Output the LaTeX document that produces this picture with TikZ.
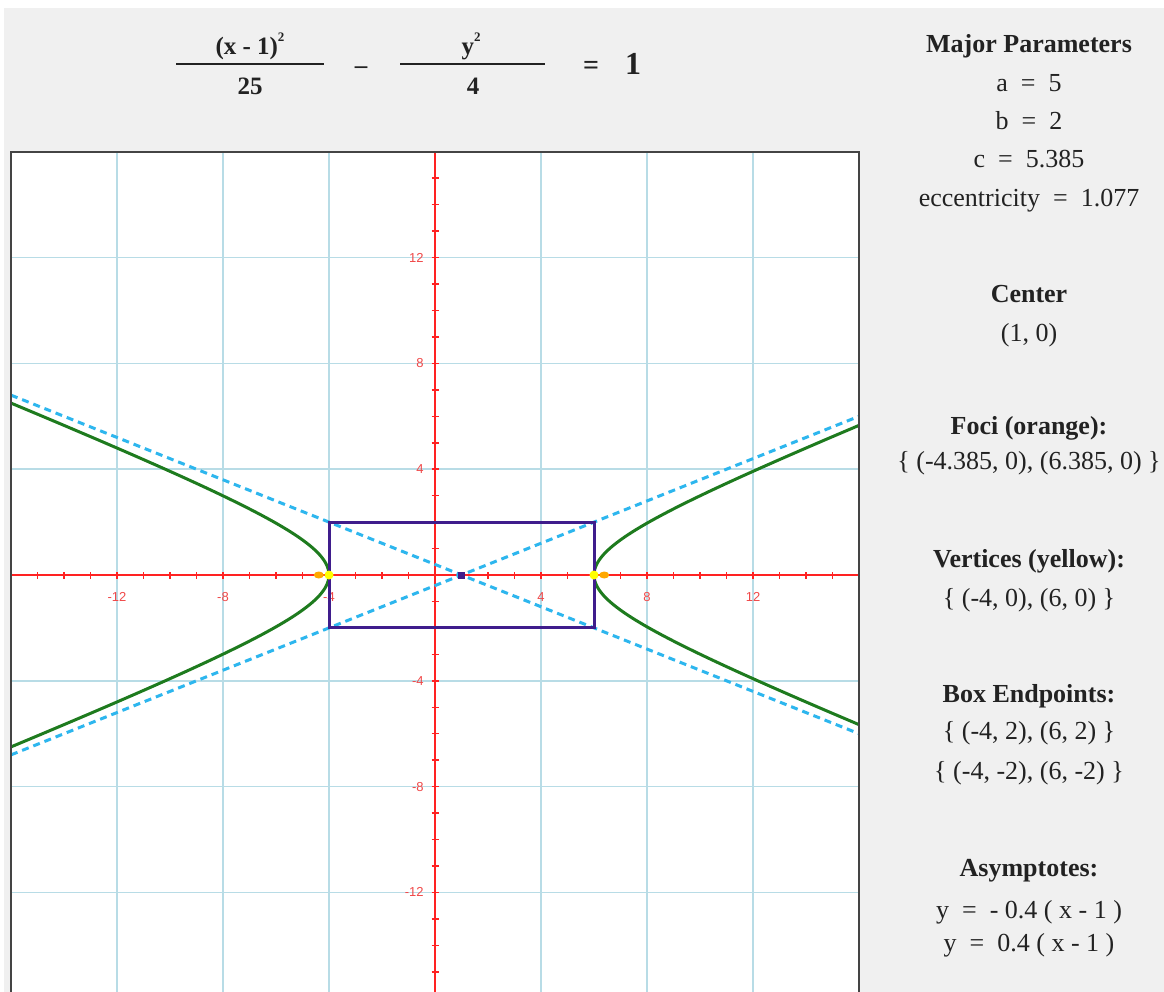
\documentclass[tikz,border=0pt]{standalone}
\usepackage{fontspec}
\setmainfont{Liberation Serif}
\newfontfamily\axisfont{Liberation Sans}
\definecolor{bggray}{HTML}{F0F0F0}
\definecolor{txt}{HTML}{222222}
\definecolor{gridc}{HTML}{B8DCE6}
\definecolor{axisc}{HTML}{FF2222}
\definecolor{lblc}{HTML}{F04848}
\definecolor{hypc}{HTML}{1E7B1E}
\definecolor{asymc}{HTML}{2DB6EE}
\definecolor{boxc}{HTML}{3F1D8C}
\definecolor{vtxc}{HTML}{FFFF00}
\definecolor{focc}{HTML}{FFA800}
\definecolor{borderc}{HTML}{444444}
\newcommand{\gap}{\hspace{0.5em}}
\newcommand{\sqsup}{\raisebox{0.5em}{\fontsize{13}{13}\selectfont 2}}
\tikzset{
  hd/.style={font=\fontsize{26}{30}\selectfont\bfseries, text=txt, inner sep=0pt, text height=0.7em, text depth=0.2em},
  bd/.style={font=\fontsize{26}{30}\selectfont, text=txt, inner sep=0pt, text height=0.7em, text depth=0.2em},
  eqt/.style={font=\fontsize{25}{30}\selectfont\bfseries, text=txt, inner sep=0pt, text height=0.7em, text depth=0.2em},
  fracbar/.style={draw=txt, line width=2pt},
  gridline/.style={draw=gridc, line width=1.5pt},
  axisline/.style={draw=axisc, line width=2pt},
  tickmark/.style={draw=axisc, line width=1.5pt},
  axlbl/.style={font=\axisfont\fontsize{13}{15}\selectfont, text=lblc, inner sep=0pt},
  hypline/.style={draw=hypc, line width=3pt},
  asymline/.style={draw=asymc, line width=3pt, dash pattern=on 7pt off 5pt},
  boxline/.style={draw=boxc, line width=3pt},
  vtx/.style={circle, fill=vtxc, minimum size=9pt, inner sep=0pt},
  foc/.style={ellipse, fill=focc, minimum width=10pt, minimum height=7pt, inner sep=0pt},
  ctr/.style={rectangle, fill=boxc, minimum size=7pt, inner sep=0pt},
}
\usetikzlibrary{shapes.geometric}
\begin{document}
\begin{tikzpicture}[x=1pt,y=-1pt]
\useasboundingbox (0,0) rectangle (1164,992);
\fill[white] (0,0) rectangle (1164,992);
\fill[bggray] (4,8) rectangle (1164,992);

% equation
\node[eqt] (num1) at (250,52) {(x - 1)\sqsup};
\node[eqt] (den1) at (250,92) {25};
\draw[fracbar] (176,64) -- (324,64);
\node[eqt] (minus) at (361,71) {–};
\node[eqt] (num2) at (471,52) {y\sqsup};
\node[eqt] (den2) at (473,92) {4};
\draw[fracbar] (400,64) -- (545,64);
\node[eqt, font=\fontsize{28}{32}\selectfont\bfseries] (eqsign) at (591,72) {=};
\node[eqt, font=\fontsize{32}{36}\selectfont\bfseries] (one) at (633,72) {1};

% right panel
\node[hd] (mp) at (1029,50) {Major Parameters};
\node[bd] (pa) at (1029,89) {a\gap=\gap5};
\node[bd] (pb) at (1029,127) {b\gap=\gap2};
\node[bd] (pc) at (1029,165) {c\gap=\gap5.385};
\node[bd] (pe) at (1029,204) {eccentricity\gap=\gap1.077};
\node[hd] (ch) at (1029,300) {Center};
\node[bd] (cv) at (1029,339) {(1, 0)};
\node[hd] (fh) at (1029,432) {Foci (orange):};
\node[bd] (fv) at (1029,467) {\{ (-4.385, 0), (6.385, 0) \}};
\node[hd] (vh) at (1029,565) {Vertices (yellow):};
\node[bd] (vv) at (1029,604) {\{ (-4, 0), (6, 0) \}};
\node[hd] (bh) at (1029,700) {Box Endpoints:};
\node[bd] (bv1) at (1029,737) {\{ (-4, 2), (6, 2) \}};
\node[bd] (bv2) at (1029,777) {\{ (-4, -2), (6, -2) \}};
\node[hd] (ah) at (1029,874) {Asymptotes:};
\node[bd] (av1) at (1029,916) {y\gap=\gap- 0.4 ( x - 1 )};
\node[bd] (av2) at (1029,949) {y\gap=\gap0.4 ( x - 1 )};

% plot
\begin{scope}[shift={(435,575)}, x=26.5pt, y=26.45pt]
  \fill[white] (-16,-17) rectangle (16,16);
  \begin{scope}
    \clip (-16,-17) rectangle (16,16);
    \foreach \g in {-12,-8,-4,4,8,12} {
      \draw[gridline] (\g,-17) -- (\g,16);
      \draw[gridline] (-16,\g) -- (16,\g);
    }
    \draw[axisline] (-16,0) -- (16,0);
    \draw[axisline] (0,16) -- (0,-17);
    \foreach \t in {-15,...,-1,1,2,...,15} {
      \draw[tickmark] (\t,0) ++(0,-3.5pt) -- ++(0,7pt);
      \draw[tickmark] (0,\t) ++(-3.5pt,0) -- ++(7pt,0);
    }
    \foreach \g in {-12,-8,-4,4,8,12} {
      \node[axlbl] (xl\g) at (\g,-0.83) {\g};
      \node[axlbl, anchor=east] (yl\g) at (-0.42,\g) {\g};
    }
    \draw[asymline] (-16,6.8) -- (16,-6);
    \draw[asymline] (-16,-6.8) -- (16,6);
    \draw[hypline] plot[domain=-1.95:1.95, samples=120, variable=\t] ({1+5*cosh(\t)},{2*sinh(\t)});
    \draw[hypline] plot[domain=-1.95:1.95, samples=120, variable=\t] ({1-5*cosh(\t)},{2*sinh(\t)});
    \draw[boxline] (-4,-2) rectangle (6,2);
    \node[foc] (f1) at (-4.385,0) {};
    \node[foc] (f2) at (6.385,0) {};
    \node[vtx] (v1) at (-4,0) {};
    \node[vtx] (v2) at (6,0) {};
    \node[ctr] (c0) at (1,0) {};
  \end{scope}
  \draw[draw=borderc, line width=2pt] (-16,-17) rectangle (16,16);
\end{scope}
\end{tikzpicture}
\end{document}
